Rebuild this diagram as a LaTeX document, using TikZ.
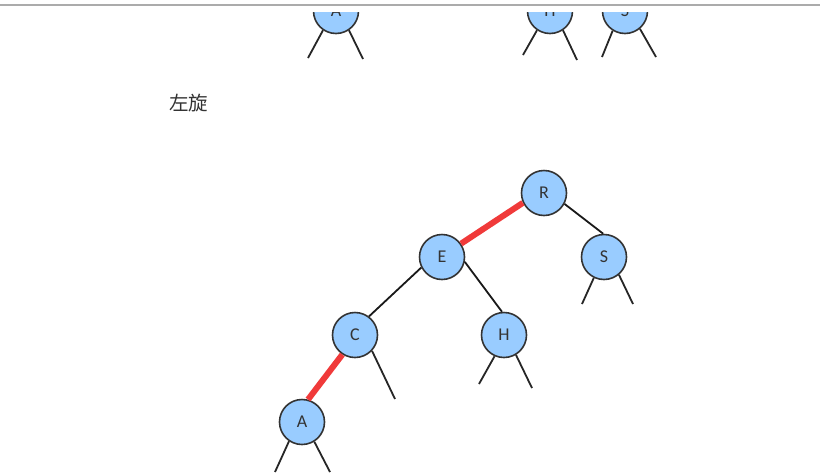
\documentclass[tikz,border=0pt]{standalone}
\usepackage{fontspec}
\newfontfamily\cjk{Noto Sans CJK SC}
\newfontfamily\lett{Carlito}
\begin{document}
\begin{tikzpicture}[x=1pt,y=-1pt,
  tnode/.style={circle,draw=black!80,line width=1.6pt,fill=blueA,minimum size=45pt,inner sep=0pt,font=\lett\fontsize{18}{18}\selectfont,text=black!80},
  edge/.style={line width=1.8pt,draw=black!90},
  redge/.style={line width=6pt,draw=redA},
  stub/.style={line width=1.8pt,draw=black!85}]
\definecolor{blueA}{HTML}{99CCFF}
\definecolor{redA}{HTML}{F03A3A}
\useasboundingbox (0,0) rectangle (825,472);
\fill[white] (0,0) rectangle (825,472);
\draw[line width=1.5pt,draw=black!33] (0,5) -- (820,5);
\begin{scope}
\clip (0,12) rectangle (825,472);
\node[tnode] (tA) at (336,11) {A};
\node[tnode] (tH) at (550,11) {H};
\node[tnode] (tS) at (625,11) {S};
\coordinate (tA1) at (308,58); \coordinate (tA2) at (363,59);
\coordinate (tH1) at (523,55); \coordinate (tH2) at (577,60);
\coordinate (tS1) at (602,57); \coordinate (tS2) at (656,57);
\draw[stub] (tA.-124) -- (tA1); \draw[stub] (tA.-56) -- (tA2);
\draw[stub] (tH.-124) -- (tH1); \draw[stub] (tH.-56) -- (tH2);
\draw[stub] (tS.-122) -- (tS1); \draw[stub] (tS.-50) -- (tS2);
\end{scope}
\node[font=\cjk\fontsize{19.5}{19.5}\selectfont,text=black!80,anchor=west,inner sep=0pt] (lbl) at (169,103) {左旋};
\node[tnode] (R) at (544,193) {R};
\node[tnode] (S) at (604,257) {S};
\node[tnode] (E) at (442,257) {E};
\node[tnode] (C) at (355,335) {C};
\node[tnode] (H) at (504,335) {H};
\node[tnode] (A) at (302,422) {A};
\draw[redge] (R.205) -- (E.35);
\draw[edge] (R.-28) -- (S.92);
\draw[edge] (E.207) -- (C.53);
\draw[edge] (E.-12) -- (H.95);
\draw[redge] (C.237) -- (A.75);
\coordinate (C2) at (395,399);
\coordinate (H1) at (479,384); \coordinate (H2) at (532,388);
\coordinate (S1) at (582,304); \coordinate (S2) at (633,304);
\coordinate (A1) at (275,472); \coordinate (A2) at (330,472);
\draw[stub] (C.-43) -- (C2);
\draw[stub] (H.-114) -- (H1); \draw[stub] (H.-59) -- (H2);
\draw[stub] (S.-116) -- (S1); \draw[stub] (S.-50) -- (S2);
\draw[stub] (A.-124) -- (A1); \draw[stub] (A.-58) -- (A2);
\end{tikzpicture}
\end{document}
